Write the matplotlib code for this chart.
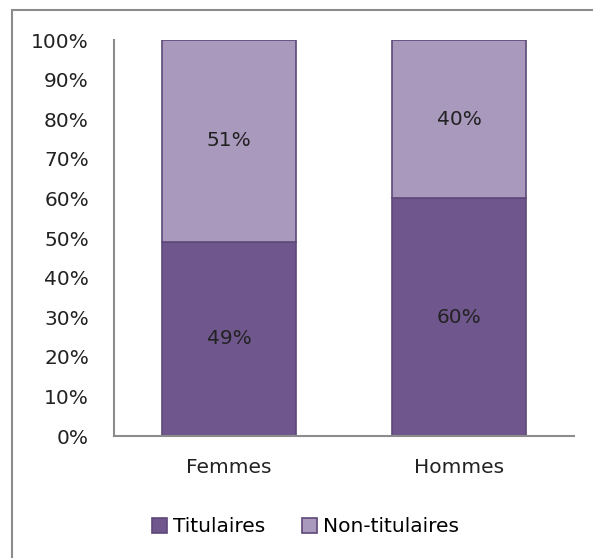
import numpy as np
import matplotlib
matplotlib.use("Agg")
import matplotlib.pyplot as plt
from matplotlib.patches import Rectangle

categories = ["Femmes", "Hommes"]
titulaires = [49, 60]
non_titulaires = [51, 40]
series_names = ["Titulaires", "Non-titulaires"]
yticks = list(range(0, 101, 10))

DARK = "#6f578d"
LIGHT = "#a899bd"
EDGE = "#5e4879"
GREY = "#8c8c8c"
TXT = "#222222"
FS = 14.5

plt.rcParams["font.family"] = ["DejaVu Sans"]

fig = plt.figure(figsize=(5.93, 5.58), dpi=100)
ax = fig.add_axes([114 / 593, 1 - 436 / 558, 460 / 593, 396 / 558])

x = np.arange(len(categories))
width = 0.58
b1 = ax.bar(x, titulaires, width, color=DARK, edgecolor=EDGE, linewidth=1.2,
            label=series_names[0])
b2 = ax.bar(x, non_titulaires, width, bottom=titulaires, color=LIGHT,
            edgecolor=EDGE, linewidth=1.2, label=series_names[1])
ax.bar_label(b1, labels=[f"{v}%" for v in titulaires], label_type="center",
             fontsize=FS, color=TXT)
ax.bar_label(b2, labels=[f"{v}%" for v in non_titulaires], label_type="center",
             fontsize=FS, color=TXT)

ax.set_xlim(-0.5, len(categories) - 0.5)
ax.set_ylim(0, 100)
ax.set_yticks(yticks)
ax.set_yticklabels([f"{v}%" for v in yticks], fontsize=FS, color=TXT)
ax.set_xticks(x)
ax.set_xticklabels(categories, fontsize=FS, color=TXT)
ax.tick_params(axis="y", length=0, pad=18)
ax.tick_params(axis="x", length=0, pad=16)
for s in ["top", "right"]:
    ax.spines[s].set_visible(False)
for s in ["left", "bottom"]:
    ax.spines[s].set_color(GREY)
    ax.spines[s].set_linewidth(1.5)

fig.legend(handles=[b1, b2], loc="center", bbox_to_anchor=(0.515, 0.056),
           ncol=2, frameon=False, fontsize=FS, handlelength=0.75,
           handleheight=0.75, handletextpad=0.3, columnspacing=1.8)

# outer chart border (right/bottom fall outside the image)
fig.patches.append(Rectangle((12 / 593, -0.05), 1.1, 1 - 10 / 558 + 0.05,
                             transform=fig.transFigure, fill=False,
                             edgecolor=GREY, linewidth=1.5))

fig.savefig("out.png", dpi=100)
